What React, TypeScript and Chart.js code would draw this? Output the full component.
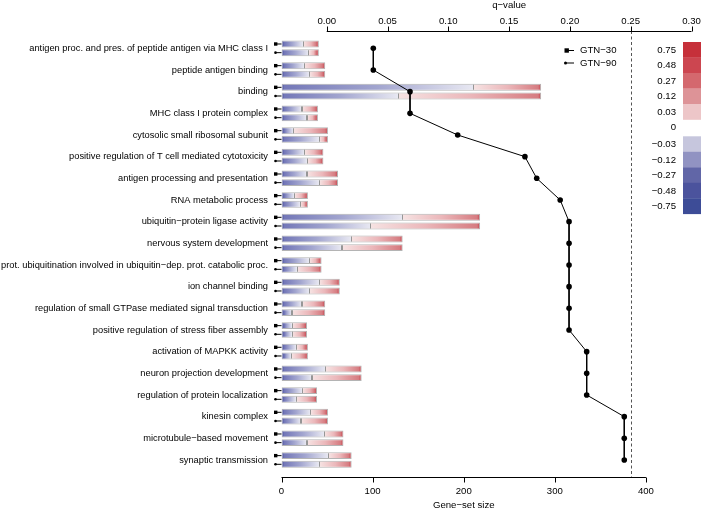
import React, { useEffect, useRef } from 'react';
import { Chart, registerables } from 'chart.js';

Chart.register(...registerables);

const categories = [
  'antigen proc. and pres. of peptide antigen via MHC class I',
  'peptide antigen binding',
  'binding',
  'MHC class I protein complex',
  'cytosolic small ribosomal subunit',
  'positive regulation of T cell mediated cytotoxicity',
  'antigen processing and presentation',
  'RNA metabolic process',
  'ubiquitin\u2212protein ligase activity',
  'nervous system development',
  'prot. ubiquitination involved in ubiquitin\u2212dep. prot. catabolic proc.',
  'ion channel binding',
  'regulation of small GTPase mediated signal transduction',
  'positive regulation of stress fiber assembly',
  'activation of MAPKK activity',
  'neuron projection development',
  'regulation of protein localization',
  'kinesin complex',
  'microtubule\u2212based movement',
  'synaptic transmission',
];

const geneSetSize = [41, 48, 285, 40, 51, 46, 62, 29, 218, 133, 44, 64, 48, 28, 29, 88, 39, 51, 68, 77];

const qValues = [
  0.0383, 0.0383, 0.0685, 0.0685, 0.1077, 0.163, 0.1727, 0.192,
  0.1993, 0.1993, 0.1993, 0.1993, 0.1993, 0.1993,
  0.2138, 0.2138, 0.2138, 0.2447, 0.2447, 0.2447,
];

// position (fraction of bar length) where the colour gradient crosses zero
const splitGTN30 = [0.58, 0.52, 0.74, 0.56, 0.26, 0.55, 0.45, 0.49, 0.61, 0.58, 0.69, 0.65, 0.47, 0.42, 0.57, 0.55, 0.59, 0.63, 0.69, 0.67];
const splitGTN90 = [0.73, 0.64, 0.45, 0.70, 0.81, 0.62, 0.67, 0.71, 0.45, 0.50, 0.39, 0.48, 0.24, 0.42, 0.38, 0.38, 0.42, 0.42, 0.41, 0.54];

const seriesNames = ['GTN\u221230', 'GTN\u221290'];
const sizeTicks = [0, 100, 200, 300, 400];
const qTicks = [0, 0.05, 0.1, 0.15, 0.2, 0.25, 0.3];
const qThreshold = 0.25;

const scaleLabels = ['0.75', '0.48', '0.27', '0.12', '0.03', '0', '\u22120.03', '\u22120.12', '\u22120.27', '\u22120.48', '\u22120.75'];
const scaleColors = ['#c6303a', '#cc4650', '#d4686e', '#dd9397', '#edc6c8', '', '#c6c6dd', '#9193c2', '#6166a7', '#4b539d', '#3d4c97'];

const FONT = '"Liberation Sans", Arial, Helvetica, sans-serif';
const FS = 9.6;
const FS_CAT = 9.3;

function makeFill(splits: number[]) {
  return (ctx: any) => {
    const chart = ctx.chart;
    const xs = chart.scales && chart.scales.x;
    if (!xs || ctx.type !== 'data') return 'rgba(0,0,0,0)';
    const x0 = xs.getPixelForValue(0);
    const x1 = xs.getPixelForValue(ctx.raw);
    const w = x1 - x0;
    if (!(w > 2) || !isFinite(w)) return '#dddddd';
    const d = splits[ctx.dataIndex];
    const g = chart.ctx.createLinearGradient(x0, 0, x1, 0);
    const px = 1 / w;
    const cl = (v: number) => Math.min(1, Math.max(0, v));
    g.addColorStop(0, 'rgb(70,78,156)');
    g.addColorStop(cl(Math.min(3 * px, d * 0.3)), 'rgb(116,120,184)');
    g.addColorStop(cl(d * 0.5), 'rgb(162,165,207)');
    g.addColorStop(cl(d - 0.6 * px), 'rgb(232,232,242)');
    g.addColorStop(cl(d - 0.6 * px), 'rgb(150,150,150)');
    g.addColorStop(cl(d + 0.6 * px), 'rgb(150,150,150)');
    g.addColorStop(cl(d + 0.6 * px), 'rgb(246,226,226)');
    g.addColorStop(cl(d + (1 - d) * 0.5), 'rgb(235,183,186)');
    g.addColorStop(cl(1 - Math.min(3 * px, (1 - d) * 0.3)), 'rgb(214,124,129)');
    g.addColorStop(1, 'rgb(194,60,70)');
    return g;
  };
}

const extrasPlugin = {
  id: 'extras',
  beforeDatasetsDraw(chart: any) {
    const c = chart.ctx;
    const x2 = chart.scales.x2;
    const area = chart.chartArea;
    const xp = x2.getPixelForValue(qThreshold);
    c.save();
    c.strokeStyle = '#555555';
    c.lineWidth = 1;
    c.setLineDash([3, 2.5]);
    c.beginPath();
    c.moveTo(Math.round(xp) + 0.5, area.top - 6.5);
    c.lineTo(Math.round(xp) + 0.5, area.bottom + 6.5);
    c.stroke();
    c.restore();
  },
  afterDatasetsDraw(chart: any) {
    const c = chart.ctx;
    c.save();
    c.fillStyle = '#000';
    c.strokeStyle = '#000';
    c.lineWidth = 1;
    [1, 2].forEach((di) => {
      const meta = chart.getDatasetMeta(di);
      meta.data.forEach((el: any) => {
        const y = el.y;
        const xb = el.base;
        c.beginPath();
        c.moveTo(xb - 6, y);
        c.lineTo(xb, y);
        c.stroke();
        if (di === 1) {
          c.fillRect(xb - 7.5, y - 1.7, 3.4, 3.4);
        } else {
          c.beginPath();
          c.arc(xb - 6, y, 1.3, 0, Math.PI * 2);
          c.fill();
        }
      });
    });
    c.restore();
  },
  afterDraw(chart: any) {
    const c = chart.ctx;
    const xs = chart.scales.x;
    const x2 = chart.scales.x2;
    const area = chart.chartArea;
    const topY = Math.round(area.top - 6.5) + 0.5;
    const botY = Math.round(area.bottom + 6.5) + 0.5;
    c.save();
    c.strokeStyle = '#000';
    c.fillStyle = '#000';
    c.lineWidth = 1;
    // bottom axis
    c.beginPath();
    c.moveTo(xs.getPixelForValue(sizeTicks[0]), botY);
    c.lineTo(xs.getPixelForValue(sizeTicks[sizeTicks.length - 1]), botY);
    xs.ticks.forEach((t: any) => {
      const p = Math.round(xs.getPixelForValue(t.value)) + 0.5;
      c.moveTo(p, botY);
      c.lineTo(p, botY + 5);
    });
    c.stroke();
    // top axis
    c.beginPath();
    c.moveTo(x2.getPixelForValue(qTicks[0]), topY);
    c.lineTo(x2.getPixelForValue(qTicks[qTicks.length - 1]), topY);
    x2.ticks.forEach((t: any) => {
      const p = Math.round(x2.getPixelForValue(t.value)) + 0.5;
      c.moveTo(p, topY);
      c.lineTo(p, topY - 5);
    });
    c.stroke();
    // titles
    c.font = `${FS}px ${FONT}`;
    c.textAlign = 'center';
    c.textBaseline = 'middle';
    const bx = (xs.getPixelForValue(sizeTicks[0]) + xs.getPixelForValue(sizeTicks[sizeTicks.length - 1])) / 2;
    c.fillText('Gene\u2212set size', bx, 505);
    const tx = (x2.getPixelForValue(qTicks[0]) + x2.getPixelForValue(qTicks[qTicks.length - 1])) / 2;
    c.fillText('q\u2212value', tx, 5.5);

    // series legend
    c.textAlign = 'left';
    const lx = 565;
    const ly = [50.5, 63];
    c.beginPath();
    c.moveTo(lx, ly[0]); c.lineTo(lx + 9, ly[0]);
    c.moveTo(lx, ly[1]); c.lineTo(lx + 9, ly[1]);
    c.stroke();
    c.fillRect(lx - 0.5, ly[0] - 2.2, 4.4, 4.4);
    c.beginPath();
    c.arc(lx + 0.5, ly[1], 1.5, 0, Math.PI * 2);
    c.fill();
    c.fillText(seriesNames[0], lx + 15, ly[0]);
    c.fillText(seriesNames[1], lx + 15, ly[1]);

    // colour scale
    const boxX = 683;
    const boxW = 18;
    const h = 15.5;
    const y0 = 42;
    c.textAlign = 'right';
    scaleLabels.forEach((lab, i) => {
      const y = y0 + i * h + (i > 5 ? 1.3 : 0);
      const col = scaleColors[i];
      if (col) {
        c.fillStyle = col;
        c.fillRect(boxX, y, boxW, h + 0.3);
      }
      c.fillStyle = '#000';
      c.fillText(lab, 676, y + h / 2 + 0.5);
    });
    c.restore();
  },
};

export default function App() {
  const ref = useRef<HTMLCanvasElement | null>(null);
  useEffect(() => {
    if (!ref.current) return;
    Chart.defaults.font.family = FONT;
    Chart.defaults.color = '#000';
    const chart = new Chart(ref.current, {
      type: 'bar',
      data: {
        labels: categories,
        datasets: [
          {
            type: 'line',
            label: 'q-value',
            data: qValues,
            xAxisID: 'x2',
            yAxisID: 'y',
            indexAxis: 'y',
            borderColor: '#000',
            borderWidth: 1,
            pointRadius: 2.8,
            pointBackgroundColor: '#000',
            pointBorderWidth: 0,
            order: 0,
          } as any,
          {
            type: 'bar',
            label: seriesNames[0],
            data: geneSetSize,
            xAxisID: 'x',
            yAxisID: 'y',
            backgroundColor: makeFill(splitGTN30),
            borderColor: '#b4b4b4',
            borderWidth: 1,
            borderSkipped: false,
            categoryPercentage: 0.8,
            barPercentage: 0.8,
            order: 1,
          } as any,
          {
            type: 'bar',
            label: seriesNames[1],
            data: geneSetSize,
            xAxisID: 'x',
            yAxisID: 'y',
            backgroundColor: makeFill(splitGTN90),
            borderColor: '#b4b4b4',
            borderWidth: 1,
            borderSkipped: false,
            categoryPercentage: 0.8,
            barPercentage: 0.8,
            order: 1,
          } as any,
        ],
      },
      options: {
        indexAxis: 'y',
        responsive: false,
        animation: false,
        devicePixelRatio: 1,
        layout: { padding: { left: 0, right: 9.5, top: 0, bottom: 0 } },
        plugins: {
          legend: { display: false },
          tooltip: { enabled: false },
        },
        scales: {
          y: {
            type: 'category',
            position: 'left',
            grid: { display: false, drawTicks: false },
            border: { display: false },
            ticks: { autoSkip: false, padding: 13.5, font: { size: FS_CAT }, color: '#000' },
            afterFit: (s: any) => { s.width = 281.5; },
          },
          x: {
            type: 'linear',
            position: 'bottom',
            min: 0,
            max: 450,
            grid: { display: false, drawTicks: true, tickLength: 14.5 },
            border: { display: false },
            ticks: { padding: 0, font: { size: FS }, color: '#000', callback: (v: any) => String(v) },
            afterBuildTicks: (s: any) => { s.ticks = sizeTicks.map((v) => ({ value: v })); },
            afterFit: (s: any) => { s.height = 41.2; },
          },
          x2: {
            type: 'linear',
            position: 'top',
            min: -0.0372,
            max: 0.3,
            grid: { display: false, drawTicks: true, tickLength: 10 },
            border: { display: false },
            ticks: { padding: 0, font: { size: FS }, color: '#000', callback: (v: any) => Number(v).toFixed(2) },
            afterBuildTicks: (s: any) => { s.ticks = qTicks.map((v) => ({ value: v })); },
            afterFit: (s: any) => { s.height = 37.5; },
          },
        },
      } as any,
      plugins: [extrasPlugin],
    });
    return () => chart.destroy();
  }, []);
  return (
    <div style={{ position: 'absolute', left: 0, top: 0, width: 701, height: 512, background: '#fff' }}>
      <canvas ref={ref} width={701} height={512} style={{ display: 'block' }} />
    </div>
  );
}
